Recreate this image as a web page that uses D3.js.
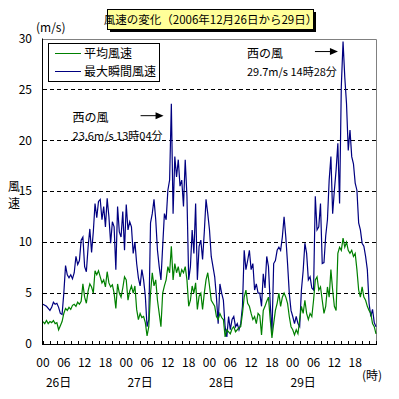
<!DOCTYPE html>
<html><head><meta charset="utf-8">
<script src="https://cdn.jsdelivr.net/npm/d3@7"></script>
<style>body{margin:0;background:#fff} text{font-family:"Noto Sans CJK JP",sans-serif;fill:#000}</style>
</head><body><svg id="c" width="399" height="399"></svg>
<script>
// 30-minute samples, hour = index * 0.5, from 26日 00時 to 30日 00時
const gustSeries = [
  3.9,3.8,3.7,3.5,3.3,3.6,4.1,3.9,4.0,3.6,3.0,2.9,
  5.0,7.7,6.8,6.5,6.8,6.4,7.0,8.6,7.8,8.2,10.2,10.5,
  7.6,7.1,9.5,11.3,9.0,11.0,13.8,12.4,14.0,14.2,12.2,13.5,
  11.5,14.3,12.5,9.9,12.0,11.5,7.3,13.5,11.0,10.5,13.0,9.2,
  13.7,11.2,12.0,11.5,8.9,10.0,7.9,6.5,5.7,7.3,6.3,4.7,
  1.7,2.4,11.9,12.8,14.2,12.2,9.2,7.6,6.3,9.6,12.8,12.2,
  15.1,16.1,23.6,12.8,18.4,16.4,18.1,15.5,16.1,13.5,18.1,14.5,
  6.3,7.6,11.2,8.9,13.8,6.3,9.6,10.2,8.3,11.0,14.2,12.8,
  11.2,8.6,7.6,6.6,4.6,2.0,5.9,5.0,4.3,1.7,0.7,2.7,
  1.4,2.4,2.7,1.7,2.0,1.4,2.0,3.7,9.2,7.3,8.2,9.2,
  7.3,7.9,5.3,5.9,5.0,5.0,3.7,6.9,5.5,8.6,7.6,4.0,
  1.0,7.9,8.2,9.2,9.5,9.2,10.5,12.5,10.5,7.9,5.0,3.3,
  2.7,2.0,2.7,2.0,1.7,5.3,7.2,9.9,8.9,6.3,6.6,5.5,
  5.3,14.5,11.2,11.5,13.8,7.9,8.0,10.6,12.2,16.1,18.4,12.8,
  15.1,17.1,19.7,13.8,25.3,29.7,26.2,23.6,19.0,21.0,18.4,17.7,
  15.8,15.1,11.9,11.2,9.9,9.6,8.6,7.3,4.0,2.7,3.4,2.1,
  1.7
];
const meanSeries = [
  2.2,2.0,2.3,2.0,2.2,2.1,2.3,2.0,2.1,1.4,1.8,2.2,
  3.0,3.5,3.3,3.6,3.4,3.8,3.9,3.7,4.1,3.9,4.2,5.9,
  4.6,4.0,5.2,5.9,5.6,5.0,7.2,6.8,7.2,6.6,6.0,6.3,
  5.6,7.1,6.0,5.6,5.8,5.0,3.5,5.9,5.0,4.6,5.5,6.6,
  6.3,4.3,5.2,5.7,5.0,5.7,3.4,2.4,3.0,2.6,2.7,2.1,
  0.8,1.7,5.0,7.0,5.7,6.3,4.3,3.0,1.7,5.0,5.7,6.3,
  7.6,7.0,9.6,6.3,7.9,7.0,7.6,6.6,7.3,7.0,7.6,6.3,
  3.7,4.3,5.7,5.0,6.0,3.4,4.7,5.0,3.4,5.0,6.3,7.0,
  5.7,4.3,4.0,3.7,2.7,2.4,3.0,2.6,2.4,0.7,1.4,1.2,
  1.0,1.5,1.7,1.2,1.4,1.6,1.7,3.0,4.6,5.3,4.0,3.7,
  3.0,2.4,2.7,2.0,3.0,2.8,0.9,3.3,3.7,4.2,4.6,2.4,
  0.6,2.0,3.3,4.0,5.0,3.7,4.6,5.0,4.6,4.0,2.7,1.7,
  1.4,0.9,1.4,1.0,2.4,3.7,3.0,4.3,3.0,2.4,3.0,2.7,
  4.3,6.3,6.6,5.3,5.6,4.3,3.0,3.7,5.6,4.6,7.3,5.3,
  3.7,3.3,8.9,9.5,9.2,10.4,9.5,10.0,9.2,8.9,9.2,8.6,
  8.9,7.3,5.3,4.6,5.6,4.6,4.3,3.7,3.3,3.0,2.0,1.7,
  1.0
];
const seriesNames = ["平均風速","最大瞬間風速"];
const yTicks = [0,5,10,15,20,25,30];
const hourLabels = ["00","06","12","18"];
const dayLabels = ["26日","27日","28日","29日"];
const dayLabelHours = [4.5,28,51.5,75];
const peakHours = [37.07,86.47];
const peakValues = [23.6,29.7];
const peakTexts = ["23.6m/s 13時04分","29.7m/s 14時28分"];
const titleText = "風速の変化（2006年12月26日から29日）";

const svg = d3.select("#c");
const x = d3.scaleLinear().domain([0,96]).range([43,376]);
const y = d3.scaleLinear().domain([0,30]).range([344,38.5]);
const colors = ["#008000","#000080"];

// grid
svg.append("g").selectAll("line").data(yTicks.filter(v=>v>0&&v<30)).join("line")
  .attr("x1",x(0)).attr("x2",x(96)).attr("y1",d=>Math.round(y(d))+0.5).attr("y2",d=>Math.round(y(d))+0.5)
  .attr("stroke","#000").attr("stroke-dasharray","4,3").attr("stroke-width",1);
// border top/right gray
svg.append("path").attr("d",`M${x(0)},${Math.round(y(30))+0.5}H${x(96)+0.5}V${y(0)}`)
  .attr("fill","none").attr("stroke","#808080");

// lines
const line = d3.line().x((d,i)=>x(i*0.5)).y(d=>y(d));
svg.append("path").datum(gustSeries).attr("d",line).attr("fill","none").attr("stroke",colors[1]).attr("stroke-width",1.2);
svg.append("path").datum(meanSeries).attr("d",line).attr("fill","none").attr("stroke",colors[0]).attr("stroke-width",1.2);

// axes
svg.append("line").attr("x1",x(0)-0.5).attr("x2",x(0)-0.5).attr("y1",y(30)).attr("y2",y(0)+1).attr("stroke","#000");
svg.append("line").attr("x1",x(0)-1).attr("x2",x(96)+1).attr("y1",Math.round(y(0))+0.5).attr("y2",Math.round(y(0))+0.5).attr("stroke","#000");
svg.append("g").selectAll("line").data(d3.range(0,97,2)).join("line")
  .attr("x1",d=>Math.round(x(d))+0.5).attr("x2",d=>Math.round(x(d))+0.5)
  .attr("y1",y(0)).attr("y2",y(0)-3).attr("stroke","#000");

// y labels
svg.append("g").selectAll("text").data(yTicks).join("text")
  .attr("x",32).attr("y",d=>y(d)).attr("dy","0.35em").attr("text-anchor","end")
  .attr("font-size",12).text(d=>d);
svg.append("text").attr("x",36).attr("y",32).attr("font-size",12).text("(m/s)");
svg.append("text").attr("x",14).attr("y",191).attr("text-anchor","middle").attr("font-size",12).text("風");
svg.append("text").attr("x",14).attr("y",208).attr("text-anchor","middle").attr("font-size",12).text("速");

// x labels
const xl = [];
for (let d=0; d<4; d++) hourLabels.forEach((t,k)=>xl.push({h:d*24+k*6,t}));
svg.append("g").selectAll("text").data(xl).join("text")
  .attr("x",d=>x(d.h)).attr("y",367).attr("text-anchor","middle").attr("font-size",12).text(d=>d.t);
svg.append("g").selectAll("text").data(dayLabels).join("text")
  .attr("x",(d,i)=>x(dayLabelHours[i])).attr("y",387).attr("text-anchor","middle").attr("font-size",12).text(d=>d);
svg.append("text").attr("x",372).attr("y",380).attr("text-anchor","middle").attr("font-size",12).text("(時)");

// title
svg.append("rect").attr("x",110).attr("y",12).attr("width",206).attr("height",20).attr("fill","#000");
svg.append("rect").attr("x",107.5).attr("y",9.5).attr("width",206).attr("height",20).attr("fill","#ffff99").attr("stroke","#000");
svg.append("text").attr("x",210.5).attr("y",24).attr("text-anchor","middle").attr("font-size",11.5).text(titleText);

// legend
const lg = svg.append("g");
lg.append("rect").attr("x",48.5).attr("y",43.5).attr("width",111).attr("height",38).attr("fill","#fff").attr("stroke","#000");
seriesNames.forEach((n,i)=>{
  lg.append("line").attr("x1",55).attr("x2",81).attr("y1",53.5+i*18).attr("y2",53.5+i*18).attr("stroke",colors[i]);
  lg.append("text").attr("x",84).attr("y",58+i*18).attr("font-size",12).text(n);
});

// annotations
peakHours.forEach((h,i)=>{
  const px = x(h), py = y(peakValues[i]);
  const ax = px - 8 - (i===0?0:-3);
  const ay = py + (i===0?12:10);
  svg.append("line").attr("x1",ax-23).attr("x2",ax-6).attr("y1",ay).attr("y2",ay).attr("stroke","#000");
  svg.append("path").attr("d",`M${ax-8},${ay-3.5}L${ax},${ay}L${ax-8},${ay+3.5}Z`).attr("fill","#000");
  svg.append("text").attr("x",ax-91).attr("y",ay+6).attr("font-size",12).text("西の風");
  svg.append("text").attr("x",ax-91).attr("y",ay+24).attr("font-size",11).text(peakTexts[i]);
});
</script></body></html>
